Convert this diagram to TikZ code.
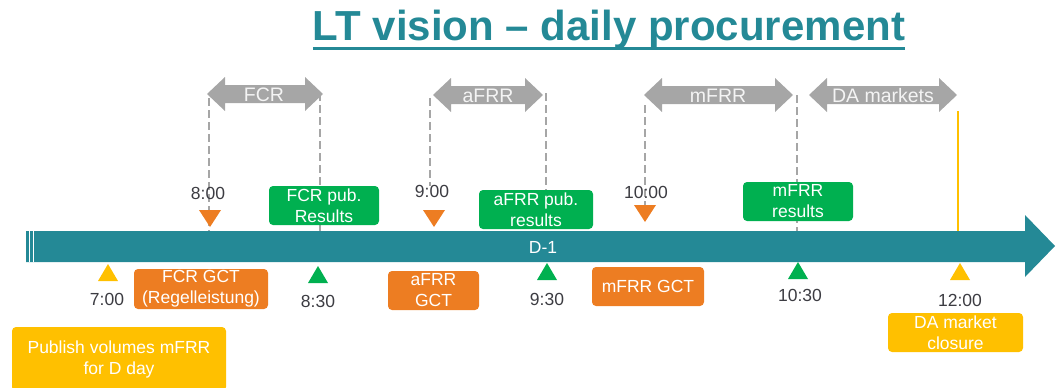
\documentclass[tikz,border=0pt]{standalone}
\usepackage{fontspec}
\setmainfont{Liberation Sans}
\definecolor{tealc}{RGB}{36,137,150}
\definecolor{arrgray}{RGB}{166,166,166}
\definecolor{greenc}{RGB}{0,176,80}
\definecolor{orangec}{RGB}{237,125,34}
\definecolor{yellowc}{RGB}{255,192,0}
\definecolor{labc}{RGB}{60,60,66}
\definecolor{arrtext}{RGB}{244,244,244}
\tikzset{
  boxbase/.style={rounded corners=4pt, text=white, align=center, inner sep=0pt,
    font=\fontsize{17.5}{21}\selectfont},
  gbox/.style={boxbase, fill=greenc},
  obox/.style={boxbase, fill=orangec},
  ybox/.style={boxbase, fill=yellowc},
  timelab/.style={text=labc, inner sep=0pt, font=\fontsize{17.5}{21}\selectfont},
  arrlab/.style={text=arrtext, inner sep=0pt, font=\fontsize{19.5}{23}\selectfont},
  guide/.style={draw=arrgray, line width=2pt, dash pattern=on 8pt off 4pt},
}
% double grey arrow: left tip x, right tip x, centre y
\newcommand\grayarrow[3]{%
  \fill[arrgray] (#1,#3) -- (#1+18,#3-17) -- (#1+18,#3-9) -- (#2-18,#3-9) -- (#2-18,#3-17)
    -- (#2,#3) -- (#2-18,#3+17) -- (#2-18,#3+9) -- (#1+18,#3+9) -- (#1+18,#3+17) -- cycle;}
% triangle pointing down: x, top y, colour
\newcommand\tridown[3]{\fill[#3] (#1-11,#2) -- (#1+11,#2) -- (#1,#2+17) -- cycle;}
% triangle pointing up: x, bottom y, colour
\newcommand\triup[3]{\fill[#3] (#1-10,#2) -- (#1+10,#2) -- (#1,#2-17) -- cycle;}
\begin{document}
\begin{tikzpicture}[x=1pt,y=-1pt]
\useasboundingbox (0,0) rectangle (1058,388);
% title
\node[anchor=base, inner sep=0pt, text=tealc, font=\bfseries\fontsize{42}{46}\selectfont] (title) at (609,40) {LT vision – daily procurement};
\draw[tealc, line width=3pt] ([yshift=-8pt]title.base west) -- ([yshift=-8pt]title.base east);

% guide coordinates
\coordinate (fcrA) at (209,98);  \coordinate (fcrAe) at (209,231);
\coordinate (fcrB) at (320,93);  \coordinate (fcrBe) at (320,231);
\coordinate (afrrA) at (430,98); \coordinate (afrrAe) at (430,186);
\coordinate (afrrB) at (546,93); \coordinate (afrrBe) at (546,191);
\coordinate (mfrrA) at (645,105); \coordinate (mfrrAe) at (645,220);
\coordinate (mfrrB) at (797,95); \coordinate (mfrrBe) at (797,231);
\draw[guide] (fcrA) -- (fcrAe);
\draw[guide] (fcrB) -- (fcrBe);
\draw[guide] (afrrA) -- (afrrAe);
\draw[guide] (afrrB) -- (afrrBe);
\draw[guide] (mfrrA) -- (mfrrAe);
\draw[guide] (mfrrB) -- (mfrrBe);

% grey arrows
\grayarrow{207}{323}{94}
\node[arrlab] (fcr) at (264,95) {FCR};
\grayarrow{433}{543}{95}
\node[arrlab] (afrr) at (488,96) {aFRR};
\grayarrow{644}{793}{95}
\node[arrlab] (mfrr) at (718,96) {mFRR};
\grayarrow{809}{957}{95}
\node[arrlab] (da) at (883,96) {DA markets};

% yellow closure line
\coordinate (dclTop) at (958,111);
\coordinate (dclBot) at (958,232);
\draw[yellowc, line width=2pt] (dclTop) -- (dclBot);

% timeline bar
\fill[tealc] (26,231) -- (1025,231) -- (1025,215) -- (1055,246) -- (1025,277) -- (1025,262) -- (26,262) -- cycle;
\draw[white, line width=0.8pt] (29.5,231) -- (29.5,262);
\draw[white, line width=0.8pt] (33.5,231) -- (33.5,262);
\node[text=white, inner sep=0pt, font=\fontsize{17.5}{21}\selectfont] (d1) at (543,247) {D-1};

% markers above
\tridown{210}{210}{orangec}
\tridown{434}{210}{orangec}
\tridown{645}{205}{orangec}
\node[timelab] (t800) at (208,193) {8:00};
\node[timelab] (t900) at (432,191) {9:00};
\node[timelab] (t1000) at (646,192) {10:00};

% green result boxes
\node[gbox, minimum width=110pt, minimum height=39pt] (fcrpub) at (324,205.5) {FCR pub.\\Results};
\node[gbox, minimum width=114pt, minimum height=39pt] (afrrpub) at (536,209.5) {aFRR pub.\\results};
\node[gbox, minimum width=110pt, minimum height=39pt] (mfrrres) at (798,201.5) {mFRR\\results};

% markers below
\triup{108}{281}{yellowc}
\triup{318}{283}{greenc}
\triup{547}{280}{greenc}
\triup{798}{279}{greenc}
\triup{960}{280}{yellowc}
\node[timelab] (t700) at (107,299) {7:00};
\node[timelab] (t830) at (318,301) {8:30};
\node[timelab] (t930) at (547,299) {9:30};
\node[timelab] (t1030) at (800,295) {10:30};
\node[timelab] (t1200) at (960,300) {12:00};

% orange GCT boxes
\node[obox, minimum width=134pt, minimum height=40pt] (fcrgct) at (201,289) {FCR GCT\\(Regelleistung)};
\node[obox, minimum width=91pt, minimum height=39pt] (afrrgct) at (433.5,290.5) {aFRR\\GCT};
\node[obox, minimum width=112pt, minimum height=39pt] (mfrrgct) at (648,286.5) {mFRR GCT};

% yellow boxes
\node[ybox, minimum width=135pt, minimum height=39pt] (daclose) at (955.5,332.5) {DA market\\closure};
\node[ybox, minimum width=214pt, minimum height=64pt] (publish) at (119,359) {Publish volumes mFRR\\for D day};
\end{tikzpicture}
\end{document}
